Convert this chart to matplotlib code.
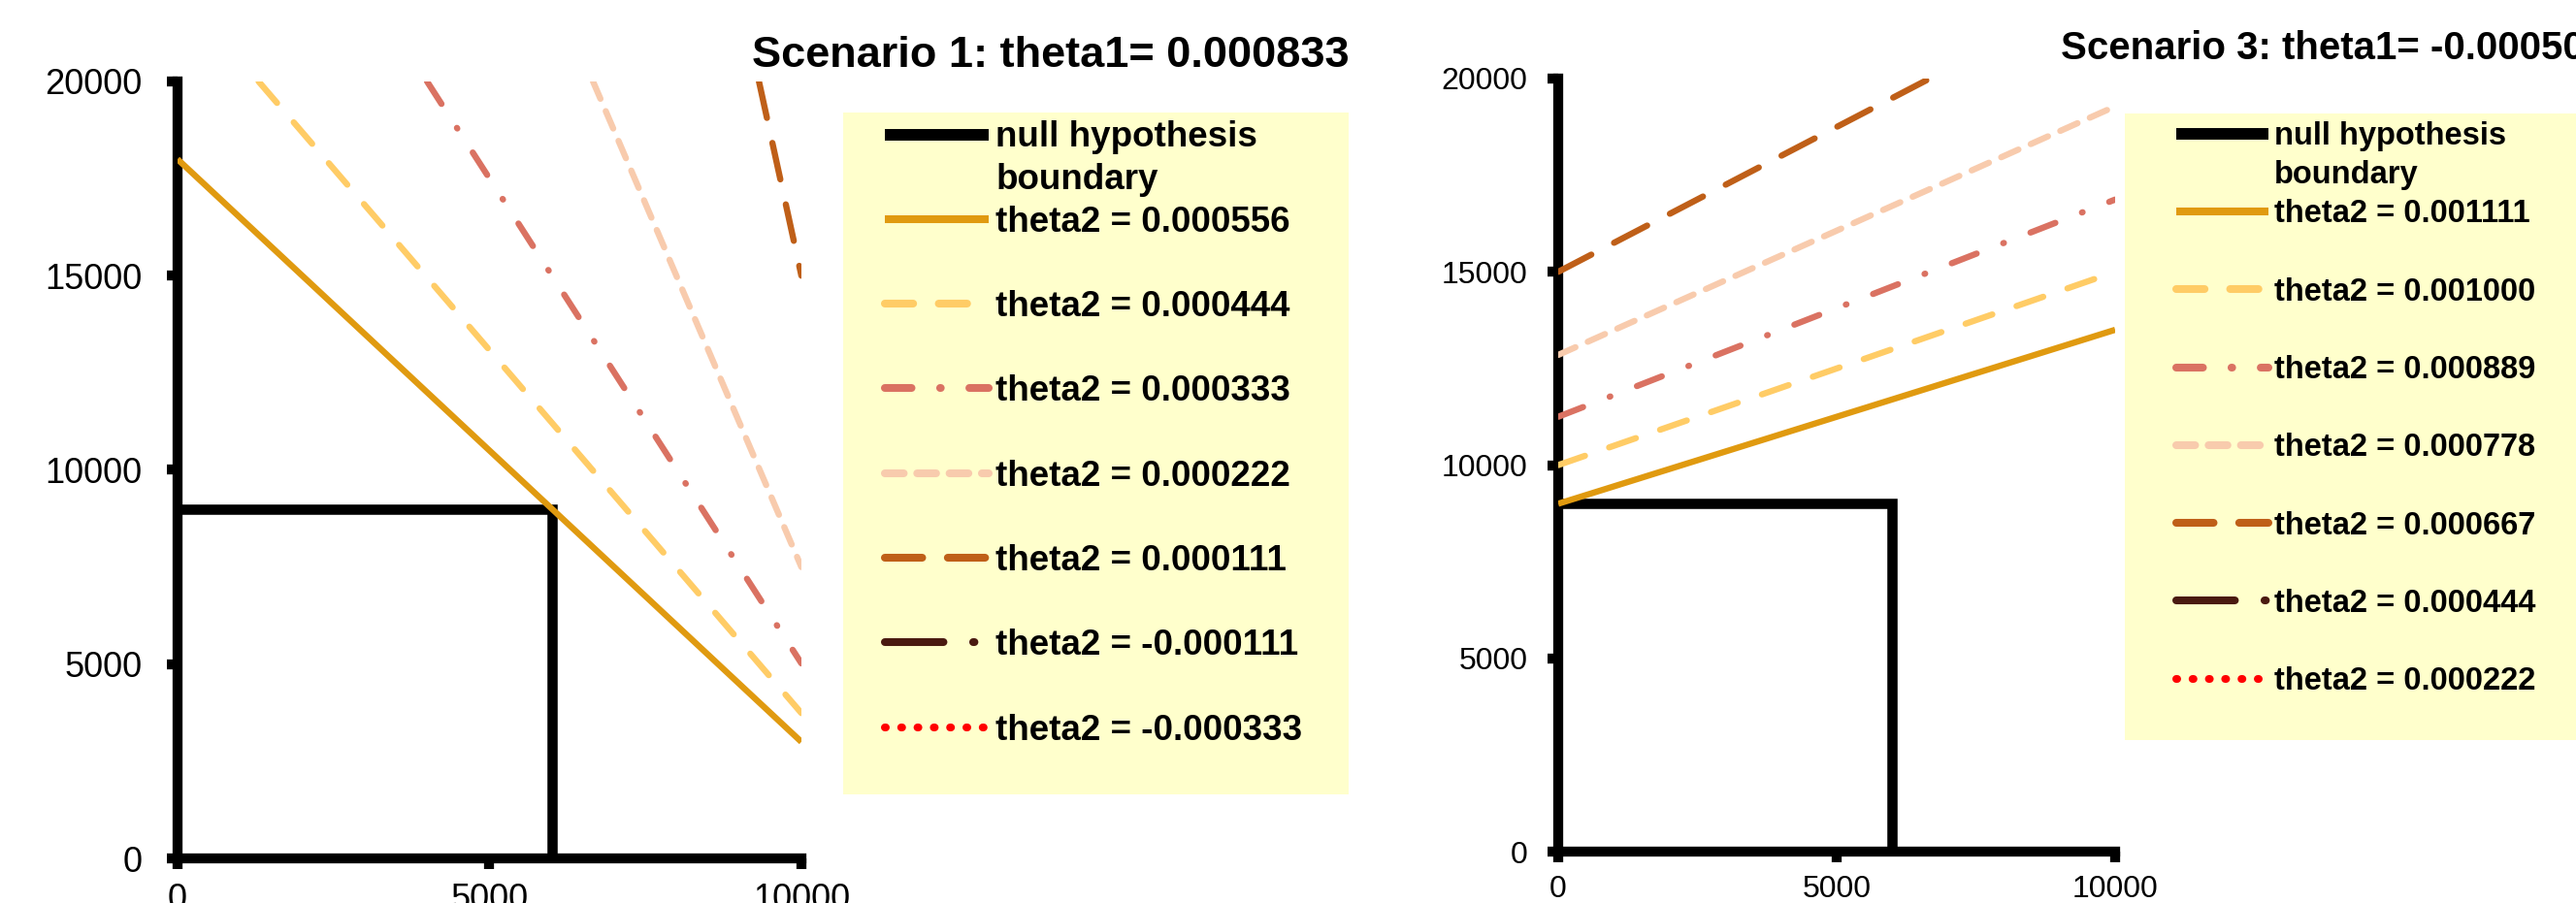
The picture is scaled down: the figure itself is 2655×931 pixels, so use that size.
import matplotlib.pyplot as plt
from matplotlib.lines import Line2D
from matplotlib.patches import Rectangle

plt.rcParams['font.family'] = ['Liberation Sans', 'DejaVu Sans']
plt.rcParams['lines.scale_dashes'] = False

########## DATA ##########

x_ticks = [0, 5000, 10000]
y_ticks = [0, 5000, 10000, 15000, 20000]

# null hypothesis boundary (same box in both scenarios)
null_x = [0, 6000, 6000]
null_y = [9000, 9000, 0]

# Scenario 1
s1_title = "Scenario 1: theta1= 0.000833"
s1_theta2 = ["0.000556", "0.000444", "0.000333", "0.000222", "0.000111", "-0.000111", "-0.000333"]
s1_x = [[0, 10000], [1300, 10000], [4000, 10000], [6660, 10000], [9320, 10000], [], []]
s1_y = [[18000, 3000], [20000, 3740], [20000, 5020], [20000, 7500], [20000, 15000], [], []]

# Scenario 3
s3_title = "Scenario 3: theta1= -0.000500"
s3_theta2 = ["0.001111", "0.001000", "0.000889", "0.000778", "0.000667", "0.000444", "0.000222"]
s3_x = [[0, 10000], [0, 10000], [0, 10000], [0, 10000], [0, 6670], [], []]
s3_y = [[9000, 13500], [10000, 15000], [11250, 16870], [12850, 19280], [15000, 20000], [], []]

########## STYLES ##########

colores = ['#E09A10', '#FFCC66', '#DA7262', '#F8CBAD', '#BF5F18', '#4A1A10', '#FF0000']
guiones = [None, (21, 19), (19.8, 21.2, 0.5, 21.2), (14, 10), (27.7, 19),
           (43.5, 22, 1, 22), (0.7, 11.4)]


def vacio():
    return Line2D([], [], color='none')


def panel(fig, rect, titulo, tit_pos, tit_size, thetas, xs, ys, tick_size, ypad, xpad,
          fondo, ancla, leg_size, leg_sep, leg_len):
    ax = fig.add_axes(rect)
    # caja de la hipotesis nula
    nula, = ax.plot(null_x, null_y, color='black', lw=7.6, solid_joinstyle='miter',
                    solid_capstyle='butt', zorder=2)
    lineas = []
    for k in range(len(thetas)):
        ls = '-' if guiones[k] is None else (0, guiones[k])
        ln, = ax.plot(xs[k], ys[k], color=colores[k], lw=4.6, linestyle=ls,
                      dash_capstyle='round', solid_capstyle='butt', zorder=3)
        lineas.append(ln)

    ax.set_xlim(0, 10000)
    ax.set_ylim(0, 20000)
    ax.set_xticks(x_ticks)
    ax.set_yticks(y_ticks)
    ax.spines[['top', 'right']].set_visible(False)
    for s in ['left', 'bottom']:
        ax.spines[s].set_linewidth(7.4)
        ax.spines[s].set_color('black')
    ax.tick_params(axis='both', direction='out', length=8, width=7.4,
                   labelsize=tick_size, colors='black')
    ax.tick_params(axis='y', pad=ypad)
    ax.tick_params(axis='x', pad=xpad)

    fig.text(tit_pos[0], tit_pos[1], titulo, ha=tit_pos[2], va='baseline',
             fontsize=tit_size, fontweight='bold')

    # leyenda (fondo amarillo aparte)
    fig.add_artist(Rectangle((fondo[0], fondo[1]), fondo[2], fondo[3],
                             transform=fig.transFigure, facecolor='#FFFFCC',
                             edgecolor='none', zorder=-1))
    handles = [nula, vacio(), lineas[0]]
    labels = ['null hypothesis', 'boundary', 'theta2 = ' + thetas[0]]
    for ln, t in zip(lineas[1:], thetas[1:]):
        handles += [vacio(), ln]
        labels += [' ', 'theta2 = ' + t]
    handles.append(vacio())
    labels.append(' ')
    leg = ax.legend(handles, labels, loc='upper left', bbox_to_anchor=ancla,
                    bbox_transform=fig.transFigure, frameon=False, borderpad=0,
                    borderaxespad=0, labelspacing=leg_sep, handlelength=leg_len,
                    handletextpad=0.2, prop={'weight': 'bold', 'size': leg_size})
    for h in leg.legend_handles:
        h.set_linewidth(5.8)
    leg.legend_handles[0].set_linewidth(8.6)
    return ax


fig = plt.figure(figsize=(26.55, 9.31), dpi=100)

panel(fig, [0.0689, 0.0494, 0.2422, 0.8604], s1_title, (0.4079, 0.9259, 'center'), 32.5,
      s1_theta2, s1_x, s1_y, 26, 18, 10,
      (0.3273, 0.1203, 0.1962, 0.7551), (0.3435, 0.8663), 26.5, 0.235, 2.9)

panel(fig, [0.6049, 0.0569, 0.2162, 0.8561], s3_title, (0.8, 0.9345, 'left'), 29,
      s3_theta2, s3_x, s3_y, 23, 14.8, 9,
      (0.8249, 0.1805, 0.19, 0.6939), (0.8448, 0.8655), 23.5, 0.28, 2.9)

fig.savefig("out.png", dpi=100)
